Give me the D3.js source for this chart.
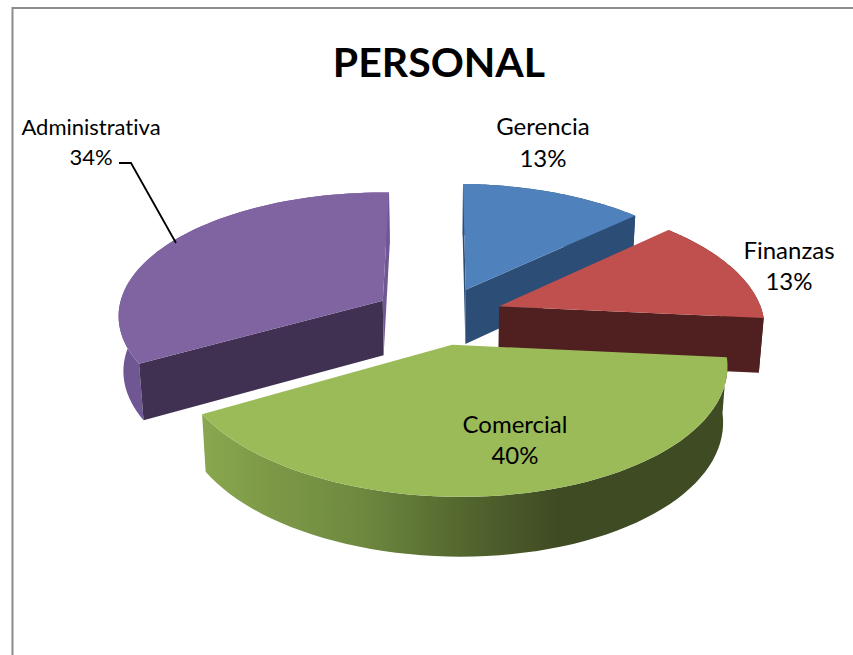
<!DOCTYPE html>
<html><head><meta charset="utf-8">
<script src="https://cdn.jsdelivr.net/npm/d3@7"></script>
<style>html,body{margin:0;padding:0;background:#fff;overflow:hidden}svg{display:block}text{font-family:Lato,"Open Sans",sans-serif;fill:#000;font-variant-ligatures:none}</style>
</head><body>
<script>
const titleText = "PERSONAL";
const categories = ["Gerencia", "Finanzas", "Comercial", "Administrativa"];
const values = [12.8, 13.3, 40.4, 33.5];
const topColors = ["#4f81bd", "#c0504d", "#9bbb59", "#8064a2"];
const wallColors = ["#2c4d75", "#4f201f", "#3f4b22", "#403152"];
const sideColors = ["#2c4d75", "#4f201f", "#3f4b22", "#6f5793"];
const labelAnchors = [[543,135],[789,259],[515,433],[91,135]];
const labelSizes = [24, 24, 24, 22];
const labelLeading = [32, 31, 31, 30];
const sliceNudge = [1, -2, -3, 0];
const drawOrder = [0, 3, 1, 2];

const W = 853, H = 655;
const cx = 439.5, cy = 315.5, rx = 265, ry = 125, persp = 0.125, roll = 3, explodeX = 0.25, explodeY = 0.233, depth = 55, bottomScale = 0.985;

const svg = d3.select("body").append("svg").attr("width", W).attr("height", H);

// green wall shading
const grad = svg.append("defs").append("linearGradient").attr("id","wallGreen")
  .attr("gradientUnits","userSpaceOnUse").attr("x1",200).attr("x2",725).attr("y1",0).attr("y2",0);
[[0,"#8aa84f"],[0.12,"#7e9a47"],[0.3,"#6f8a40"],[0.48,"#566a30"],[0.68,"#3f4b23"],[1,"#3f4b23"]]
  .forEach(s=>grad.append("stop").attr("offset",s[0]).attr("stop-color",s[1]));

// frame
svg.append("path").attr("d",`M${W},8H12.5V${H}`).attr("fill","none").attr("stroke","#8c8c8c").attr("stroke-width",2);

function project(X, Y, bottom, nudge) {
  const w = 1 - persp * Y;
  const s = bottom ? bottomScale : 1;
  return [cx + nudge + s * rx * X / w, cy + (ry * Y + roll * X) / w + (bottom ? depth / Math.sqrt(w) : 0)];
}
const line = d3.line();
const area = pts => d3.polygonArea(pts);

const arcs = d3.pie().sort(null).value(d => d)(values);
const slices = arcs.map((a, i) => {
  const mid = (a.startAngle + a.endAngle) / 2;
  const ox = Math.sin(mid) * explodeX, oy = -Math.cos(mid) * explodeY;
  const rim = (t, b) => project(ox + Math.sin(t), oy - Math.cos(t), b, sliceNudge[i]);
  const n = 60;
  const ts = d3.range(n + 1).map(k => a.startAngle + (a.endAngle - a.startAngle) * k / n);
  return { i, a, apex: b => project(ox, oy, b, sliceNudge[i]), rim, ts };
});

drawOrder.forEach(i => {
  const s = slices[i];
  const g = svg.append("g").attr("class","slice");
  // outer wall
  const wall = s.ts.map(t => s.rim(t, false)).concat(s.ts.slice().reverse().map(t => s.rim(t, true)));
  g.append("path").attr("d", line(wall) + "Z")
    .attr("fill", i === 2 ? "url(#wallGreen)" : sideColors[i]);
  // radial walls that face the viewer
  const qs = [
    { q: [s.apex(false), s.rim(s.a.startAngle,false), s.rim(s.a.startAngle,true), s.apex(true)], sign: 1 },
    { q: [s.apex(false), s.rim(s.a.endAngle,false), s.rim(s.a.endAngle,true), s.apex(true)], sign: -1 }
  ];
  qs.forEach(({q, sign}) => {
    if (area(q) * sign > 0) {
      const thin = Math.abs(area(q)) < 1200;
      g.append("path").attr("d", line(q) + "Z").attr("fill", thin ? sideColors[i] : wallColors[i]);
    }
  });
  // top face
  const top = [s.apex(false)].concat(s.ts.map(t => s.rim(t, false)));
  g.append("path").attr("d", line(top) + "Z").attr("fill", topColors[i]);
});

// leader line
svg.append("path").attr("d", line([[119,163],[131,163],[176,243]]))
  .attr("fill","none").attr("stroke","#000").attr("stroke-width",1.8);

// title
svg.append("text").attr("x",439).attr("y",77).attr("text-anchor","middle")
  .attr("font-size",41).attr("font-weight",700).text(titleText);

// labels
const total = d3.sum(values);
categories.forEach((c, i) => {
  const t = svg.append("text").attr("text-anchor","middle").attr("font-size",labelSizes[i]);
  const [x, y] = labelAnchors[i];
  t.append("tspan").attr("x", x).attr("y", y).text(c);
  t.append("tspan").attr("x", x).attr("y", y + labelLeading[i]).text(d3.format(".0f")(values[i] / total * 100) + "%");
});
</script>
</body></html>
